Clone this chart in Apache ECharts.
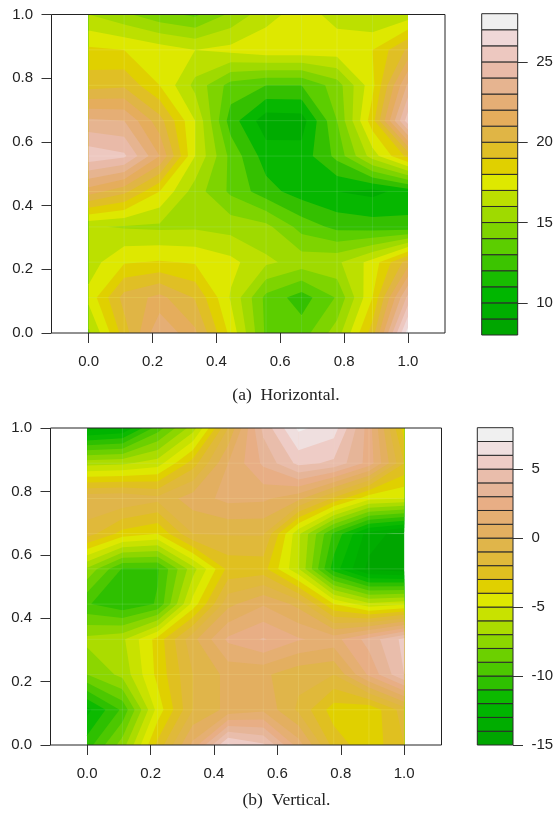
<!DOCTYPE html>
<html><head><meta charset="utf-8">
<style>html,body{margin:0;padding:0;background:#fff}#c{width:557px;height:817px}</style>
<script src="https://cdn.jsdelivr.net/npm/echarts@6/dist/echarts.min.js"></script>
</head><body><div id="c"></div>
<script>
// Node values, top row (y = 1) first, left column (x = 0) first
const horizontalZ = [
 [16.0,15.2,14.3,13.8,15.2,16.6,17.5,16.6,16.0,16.4],
 [18.2,18.0,17.5,17.0,17.3,17.7,17.7,17.6,18.0,20.2],
 [19.6,19.8,18.0,15.7,13.6,13.0,13.0,14.5,17.7,23.2],
 [23.2,23.0,20.4,17.0,12.5,10.4,10.5,14.0,18.6,25.6],
 [25.7,25.2,22.0,17.0,13.7,11.5,11.4,13.3,16.5,19.3],
 [21.5,20.3,18.0,15.5,13.8,12.4,11.5,11.0,10.7,11.4],
 [16.1,15.9,15.8,15.85,15.6,15.3,13.6,12.7,12.5,12.3],
 [16.5,17.9,18.1,17.9,17.3,16.2,15.6,15.8,17.4,20.5],
 [17.3,20.4,21.3,19.9,16.9,13.7,12.5,14.1,18.0,24.3],
 [15.8,19.5,22.9,21.2,17.7,13.8,13.5,15.5,19.5,27.5]
];
const verticalZ = [
 [-13.5,-13.0,-9.5,-6.5,-1.0,4.3,7.2,6.5,2.5,-3.5],
 [-6.4,-6.2,-5.5,-2.5,1.0,3.2,5.3,4.8,2.6,-2.0],
 [-0.2,-0.1,-0.7,0.5,1.3,1.2,0.3,-2.2,-4.7,-5.0],
 [-1.5,-3.4,-4.0,-1.0,-0.9,-0.9,-5.8,-10.2,-13.5,-14.5],
 [-7.2,-10.1,-10.1,-6.4,-2.7,-2.6,-5.9,-11.5,-14.3,-14.7],
 [-9.9,-10.8,-9.9,-4.6,-0.3,0.9,-0.3,-4.0,-5.7,-5.2],
 [-6.7,-6.2,-3.6,-0.3,2.2,3.1,2.1,1.6,3.4,5.3],
 [-8.0,-6.7,-3.7,-1.0,0.3,0.2,-0.7,-1.0,2.2,5.0],
 [-12.3,-9.8,-4.6,-1.0,0.3,0.8,-1.2,-3.5,-3.8,-1.5],
 [-10.5,-7.5,-2.7,1.3,6.2,5.2,1.5,-2.4,-3.7,-2.0]
];
const horizontalColors = ['#00A600','#00AE00','#00B600','#18BC00','#3CC400','#5CCE00','#7ED400','#9FDA00','#BCE000','#DEE800','#E0D000','#E0BF25','#E0B545','#E5AD5C','#E5AE75','#E6B490','#E9BAA8','#EDC8C0','#EFD8D8','#F0F0F0'];
const horizontalPlotColors = ['#00A600','#00A800','#00AC00','#06B700','#34C000','#5CCE00','#7ED400','#9FDA00','#BCE000','#DEE800','#E0D000','#E0BF25','#E0B545','#E5AD5C','#E5AE75','#E6B490','#E9BAA8','#EDC8C0','#EFD8D8','#F0F0F0'];
const verticalColors = ['#00A600','#00AD00','#00B400','#0CBA00','#2EC000','#4CC800','#6CD000','#8CD600','#ABDC00','#C8E200','#DEE800','#E0D000','#E0C020','#E0B93A','#E0B54A','#E3AF60','#E5AF72','#E8AE85','#E6B598','#E9BDAB','#EECCC6','#EFDFDF','#F0F0F0'];
const horizontalFirstLevel = 8;
const verticalFirstLevel = -15;
const axisTicks = [0,0.2,0.4,0.6,0.8,1];
const horizontalBarTicks = [10,15,20,25];
const verticalBarTicks = [-15,-10,-5,0,5];
const captions = ['(a)  Horizontal.','(b)  Vertical.'];

function clipAbove(poly, level){
  const out=[];
  for(let i=0;i<poly.length;i++){
    const a=poly[i], b=poly[(i+1)%poly.length];
    const ina=a[2]>=level, inb=b[2]>=level;
    if(ina) out.push(a);
    if(ina!==inb){
      const t=(level-a[2])/(b[2]-a[2]);
      out.push([a[0]+t*(b[0]-a[0]),a[1]+t*(b[1]-a[1]),level]);
    }
  }
  return out;
}
function layeredPolys(z, first, colors){
  const res=[], n=z.length-1, m=z[0].length-1;
  colors.forEach((col,k)=>{
    for(let r=0;r<n;r++) for(let c=0;c<m;c++){
      const quad=[[c/m,1-r/n,z[r][c]],[(c+1)/m,1-r/n,z[r][c+1]],[(c+1)/m,1-(r+1)/n,z[r+1][c+1]],[c/m,1-(r+1)/n,z[r+1][c]]];
      const p=clipAbove(quad,k===0?-Infinity:first+k);
      if(p.length>2) res.push({pts:p,color:col});
    }
  });
  return res;
}
function contourSeries(z, first, colors, idx){
  const polys=layeredPolys(z,first,colors);
  return {type:'custom',xAxisIndex:idx,yAxisIndex:idx,silent:true,animation:false,clip:true,z:1,progressive:0,
    data:polys.map(p=>[p.pts[0][0],p.pts[0][1]]),
    renderItem(params,api){
      const p=polys[params.dataIndex];
      return {type:'polygon',shape:{points:p.pts.map(q=>api.coord([q[0],q[1]]))},style:{fill:p.color,stroke:null}};
    }};
}
function seamSeries(z, idx){
  const n=z.length-1, m=z[0].length-1, segs=[];
  for(let c=1;c<m;c++) segs.push([c/m,0,c/m,1]);
  for(let r=1;r<n;r++) segs.push([0,r/n,1,r/n]);
  return {type:'custom',xAxisIndex:idx,yAxisIndex:idx,silent:true,animation:false,clip:true,z:2,
    data:segs,
    renderItem(params,api){
      const a=api.coord([api.value(0),api.value(1)]), b=api.coord([api.value(2),api.value(3)]);
      return {type:'line',shape:{x1:a[0],y1:a[1],x2:b[0],y2:b[1]},style:{stroke:'rgba(255,255,255,0.12)',lineWidth:1}};
    }};
}
function barSeries(first, colors, idx){
  return {type:'custom',xAxisIndex:idx,yAxisIndex:idx,silent:true,animation:false,clip:false,z:1,
    data:colors.map((c,k)=>[0,first+k]),
    renderItem(params,api){
      const k=params.dataIndex;
      const a=api.coord([0,first+k]), b=api.coord([1,first+k+1]);
      return {type:'rect',shape:{x:a[0],y:b[1],width:b[0]-a[0],height:a[1]-b[1]},
        style:{fill:colors[k],stroke:'#2a2a2a',lineWidth:1}};
    }};
}
const labelStyle={color:'#222',fontFamily:'Liberation Sans',fontSize:15};
const tickStyle={length:10,lineStyle:{color:'#333',width:1}};
const fmt1=v=>Number(v).toFixed(1);
function plotGrid(l,t,w,h){return {left:l,top:t,width:w,height:h,show:true,borderColor:'#222',borderWidth:1,backgroundColor:'transparent',z:5};}
function plotX(idx,min,max){return {type:'value',gridIndex:idx,min,max,position:'bottom',splitLine:{show:false},axisLine:{show:false,onZero:false},
  axisTick:{show:true,customValues:axisTicks,...tickStyle},
  axisLabel:{show:true,customValues:axisTicks,formatter:fmt1,margin:21.5,...labelStyle}};}
function plotY(idx){return {type:'value',gridIndex:idx,min:0,max:1,position:'left',splitLine:{show:false},axisLine:{show:false,onZero:false},
  axisTick:{show:true,customValues:axisTicks,...tickStyle},
  axisLabel:{show:true,customValues:axisTicks,formatter:fmt1,margin:18.5,...labelStyle}};}
function barX(idx){return {type:'value',gridIndex:idx,min:0,max:1,show:false};}
function barY(idx,min,max,ticks){return {type:'value',gridIndex:idx,min,max,position:'right',splitLine:{show:false},axisLine:{show:false,onZero:false},
  axisTick:{show:true,customValues:ticks,...tickStyle},
  axisLabel:{show:true,customValues:ticks,margin:18.5,...labelStyle}};}

const chart=echarts.init(document.getElementById('c'),null,{renderer:'canvas'});
chart.setOption({
  animation:false,backgroundColor:'#fff',
  grid:[plotGrid(51.5,14.5,393.5,318.5),plotGrid(50.5,428,391,317),
        {left:481.7,top:13.7,width:36,height:321.3},{left:477.3,top:427.7,width:35.7,height:317.3}],
  xAxis:[plotX(0,-0.1165,1.116),plotX(1,-0.1158,1.1177),barX(2),barX(3)],
  yAxis:[plotY(0),plotY(1),
    barY(2,horizontalFirstLevel,horizontalFirstLevel+horizontalColors.length,horizontalBarTicks),
    barY(3,verticalFirstLevel,verticalFirstLevel+verticalColors.length,verticalBarTicks)],
  series:[contourSeries(horizontalZ,horizontalFirstLevel,horizontalPlotColors,0),
          contourSeries(verticalZ,verticalFirstLevel,verticalColors,1),
          seamSeries(horizontalZ,0),seamSeries(verticalZ,1),
          barSeries(horizontalFirstLevel,horizontalColors,2),
          barSeries(verticalFirstLevel,verticalColors,3)],
  graphic:[
    {type:'text',x:286,y:395.5,style:{text:captions[0],fill:'#222',font:'17.5px "Liberation Serif"',textAlign:'center',textVerticalAlign:'middle'}},
    {type:'text',x:286.5,y:800,style:{text:captions[1],fill:'#222',font:'17.5px "Liberation Serif"',textAlign:'center',textVerticalAlign:'middle'}}
  ]
});
</script></body></html>
